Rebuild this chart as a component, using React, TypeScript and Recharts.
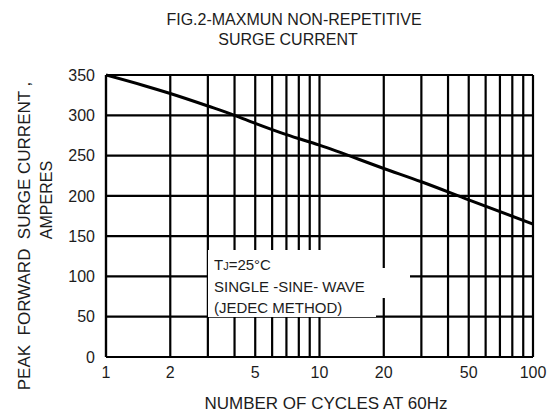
import * as React from "react";
import { CartesianGrid, Line, LineChart, XAxis, YAxis } from "recharts";

// number of cycles at 60Hz (log axis) vs peak forward surge current, amperes
const cycles = [1, 1.5, 2, 3, 4, 5, 7, 10, 20, 30, 50, 100];
const amperes = [350, 337, 327, 311.5, 300, 290, 276, 263, 234, 217.5, 195, 165];

const xGridTicks = [1, 2, 3, 4, 5, 6, 7, 8, 9, 10, 20, 30, 40, 50, 60, 70, 80, 90, 100];
const xLabelled = [1, 2, 5, 10, 20, 50, 100];
const yTicks = [0, 50, 100, 150, 200, 250, 300, 350];

const data = cycles.map((c, i) => ({ cycles: c, amps: amperes[i] }));

const font = "'Liberation Sans', Arial, sans-serif";
const ink = "#1c1c1c";

export default function App() {
  return (
    <div style={{ position: "absolute", left: 0, top: 0, width: 557, height: 416, background: "#fff" }}>
      <LineChart
        width={557}
        height={416}
        data={data}
        margin={{ top: 75, right: 24, left: 0, bottom: 0 }}
        style={{ fontFamily: font }}
      >
        <CartesianGrid stroke="#000" strokeWidth={2.2} strokeOpacity={1} />
        <XAxis
          dataKey="cycles"
          type="number"
          scale="log"
          domain={[1, 100]}
          ticks={xGridTicks}
          allowDataOverflow
          height={59}
          tickLine={false}
          axisLine={{ stroke: "#000", strokeWidth: 2.2 }}
          tickMargin={4}
          interval={0}
          tickFormatter={(v: number) => (xLabelled.includes(v) ? String(v) : "")}
          tick={{ fill: ink, fontSize: 16, fontFamily: font }}
        />
        <YAxis
          type="number"
          domain={[0, 350]}
          ticks={yTicks}
          width={106}
          tickLine={false}
          axisLine={{ stroke: "#000", strokeWidth: 2.2 }}
          tickMargin={5}
          interval={0}
          tick={{ fill: ink, fontSize: 16, fontFamily: font }}
        />
        <Line
          type="monotone"
          dataKey="amps"
          stroke="#000"
          strokeWidth={3}
          dot={false}
          isAnimationActive={false}
        />
      </LineChart>
      <svg
        width={557}
        height={416}
        style={{ position: "absolute", left: 0, top: 0, pointerEvents: "none", fontFamily: font }}
      >
        <text x={294} y={25} textAnchor="middle" style={{ fontSize: 16 }} fill={ink}>
          FIG.2-MAXMUN NON-REPETITIVE
        </text>
        <text x={288} y={45} textAnchor="middle" style={{ fontSize: 16 }} fill={ink}>
          SURGE CURRENT
        </text>
        <text
          transform="translate(29.5,236) rotate(-90)"
          textAnchor="middle"
          fill={ink}
          style={{ whiteSpace: "pre", fontSize: 17 }}
        >
          {"PEAK  FORWARD  SURGE CURRENT ,"}
        </text>
        <text transform="translate(51.5,200) rotate(-90)" textAnchor="middle" fill={ink} style={{ fontSize: 16 }}>
          AMPERES
        </text>
        <text x={326} y={409} textAnchor="middle" fill={ink} style={{ fontSize: 17 }}>
          NUMBER OF CYCLES AT 60Hz
        </text>
        <rect x={208} y={250} width={168} height={67} fill="#fff" />
        <rect x={376} y={268} width={34} height={30} fill="#fff" />
        <text x={214} y={270} fill={ink} style={{ fontSize: 15 }}>
          T<tspan style={{ fontSize: 11 }}>J</tspan>=25°C
        </text>
        <text x={214} y={292} fill={ink} style={{ fontSize: 15 }}>
          SINGLE -SINE- WAVE
        </text>
        <text x={214} y={313} fill={ink} style={{ fontSize: 15 }}>
          (JEDEC METHOD)
        </text>
      </svg>
    </div>
  );
}
